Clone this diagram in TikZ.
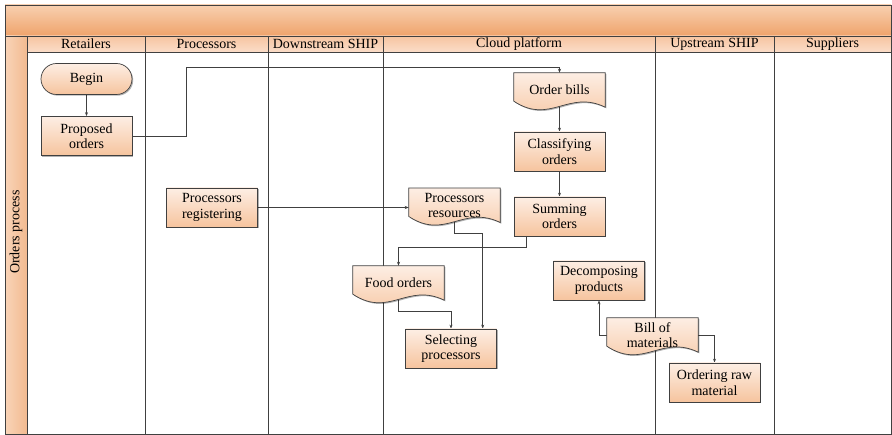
\documentclass[tikz,border=0pt]{standalone}
\usepackage{fontspec}
\setmainfont{Liberation Serif}
\usetikzlibrary{arrows.meta,calc,shadows}

\definecolor{lineg}{HTML}{404040}
\definecolor{bandtop}{HTML}{F8D0B0}
\definecolor{bandbot}{HTML}{EFA36B}
\definecolor{headtop}{HTML}{F6C4A0}
\definecolor{headbot}{HTML}{FBDDC8}
\definecolor{sideleft}{HTML}{F9D4B8}
\definecolor{sideright}{HTML}{F2BA90}
\definecolor{boxtop}{HTML}{FDEEE4}
\definecolor{boxbot}{HTML}{F6C49E}

\pgfdeclarelayer{lanes}
\pgfdeclarelayer{links}
\pgfdeclarelayer{docs}
\pgfsetlayers{lanes,links,docs,main}

% document symbol: straight top and sides, wavy bottom edge
\newcommand\docoutline[1]{%
  \begin{pgfonlayer}{docs}
    \path[docshape] (#1.north west) -- (#1.north east) -- (#1.south east)
      .. controls ($(#1.south west)+(54.6,-18)$) and ($(#1.south west)+(36.4,18)$)
      .. ($(#1.south west)+(0,-6)$) -- cycle;
  \end{pgfonlayer}}

\begin{document}
\begin{tikzpicture}[x=1pt,y=-1pt,
  font=\fontsize{14}{15.5}\selectfont,
  lane/.style={draw=lineg,line width=0.9pt},
  softshadow/.style={drop shadow={shadow xshift=1.2pt,shadow yshift=-1.2pt,opacity=0.3,fill=black}},
  box/.style={rectangle,draw=lineg,line width=0.7pt,minimum width=91pt,minimum height=39pt,
    align=center,inner sep=1pt,top color=boxtop,bottom color=boxbot,softshadow},
  term/.style={box,rounded corners=15.5pt,minimum height=31pt},
  doc/.style={rectangle,minimum width=91pt,minimum height=34pt,align=center,inner sep=1pt},
  docshape/.style={draw=lineg,line width=0.7pt,top color=boxtop,bottom color=boxbot,softshadow},
  link/.style={draw=lineg,line width=0.7pt,-{Stealth[length=4pt,width=3pt]}},
  wire/.style={draw=lineg,line width=0.7pt}]

\useasboundingbox (0,0) rectangle (892,435);

% ---- pool frame, title band, lane headers ----
\begin{pgfonlayer}{lanes}
  \fill[white] (0,0) rectangle (892,435);
  \shade[top color=bandtop,bottom color=bandbot] (5,5) rectangle (891,36);
  \shade[top color=headtop,bottom color=headbot] (27,36) rectangle (891,52);
  \shade[left color=sideleft,right color=sideright] (5,36) rectangle (27,434);
  \draw[lane] (5,5) rectangle (891,434);
  \draw[lane] (5,36) -- (891,36);
  \draw[lane] (27,52) -- (891,52);
  \foreach \xx in {27,145,268,383,655,774}
    \draw[lane] (\xx,36) -- (\xx,434);
\end{pgfonlayer}

\node[rotate=90] (pool) at (16,232) {Orders process};
\node (h1) at (86,44)    {Retailers};
\node (h2) at (206.5,44) {Processors};
\node (h3) at (325.5,44) {Downstream SHIP};
\node (h4) at (519,44)   {Cloud platform};
\node (h5) at (714.5,44) {Upstream SHIP};
\node (h6) at (832.5,44) {Suppliers};

% ---- flow elements ----
\node[term] (bg)   at (86.5,79)    {Begin};
\node[box]  (po)   at (86.5,136)   {Proposed\\orders};
\node[doc]  (ob)   at (559.5,90)   {Order bills};
\node[box]  (cls)  at (559.5,151.5){Classifying\\orders};
\node[box]  (sm)   at (559.5,216.5){Summing\\orders};
\node[box]  (preg) at (212,207.5)  {Processors\\registering};
\node[doc]  (pr)   at (454.5,205.3){Processors\\resources};
\node[doc]  (fo)   at (398.5,283)  {Food orders};
\node[box]  (sel)  at (451,348.5)  {Selecting\\processors};
\node[box]  (dec)  at (599,280.5)  {Decomposing\\products};
\node[doc]  (bom)  at (652.5,335)  {Bill of\\materials};
\node[box]  (orm)  at (714.5,382.5){Ordering raw\\material};

\docoutline{ob}
\docoutline{pr}
\docoutline{fo}
\docoutline{bom}

% ---- bend points ----
\coordinate (k1) at (186,67);
\coordinate (k2) at (482.7,233);
\coordinate (k3) at (451,311);
\coordinate (k4) at (398.5,247);
\coordinate (k5) at ($(sm.south west)+(13,0)$);

% ---- connectors ----
\begin{pgfonlayer}{links}
  \draw[link] (bg) -- (po);
  \draw[link] (po.east) -| (k1) -| (ob.north);
  \draw[link] (ob.south) -- (cls.north);
  \draw[link] (cls) -- (sm);
  \draw[link] (preg.east) -- (preg.east -| pr.west);
  \draw[link] (k5) |- (k4) -- (fo.north);
  \draw[link] (pr.south) |- (k2) -- (k2 |- sel.north);
  \draw[link] (fo.south) |- (k3) -- (sel.north);
  \draw[link] (bom.west) -| (dec.south);
  \draw[link] (bom.east) -| (orm.north);
\end{pgfonlayer}

\end{tikzpicture}
\end{document}
